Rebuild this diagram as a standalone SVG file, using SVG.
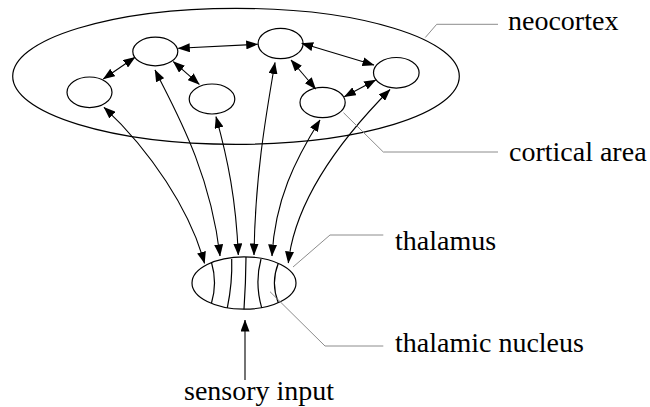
<svg xmlns="http://www.w3.org/2000/svg" width="650" height="407" viewBox="0 0 650 407">
  <rect width="650" height="407" fill="#fff"/>
  <g id="labels" font-family="Liberation Serif, serif" font-size="28" fill="#000">
    <text x="508" y="30" font-family="Liberation Serif" font-size="28">neocortex</text>
    <text x="509" y="161" font-family="Liberation Serif" font-size="28">cortical area</text>
    <text x="395" y="250" font-family="Liberation Serif" font-size="28">thalamus</text>
    <text x="395" y="352" font-family="Liberation Serif" font-size="28">thalamic nucleus</text>
    <text x="184" y="400" font-family="Liberation Serif" font-size="28">sensory input</text>
  </g>
  <defs>
    <marker id="ah" viewBox="0 0 12 9" refX="11.5" refY="4.5" markerWidth="12" markerHeight="9" markerUnits="userSpaceOnUse" orient="auto-start-reverse">
      <path d="M0,0 L12,4.5 L0,9 z" fill="#000" stroke="none"/>
    </marker>
  </defs>

  <g fill="none" stroke="#000" stroke-width="1.2">
    <g id="neocortex">
      <ellipse cx="236" cy="76.3" rx="223.3" ry="68"/>
    </g>
    <g id="area1"><ellipse cx="89.5" cy="92.3" rx="22.5" ry="15.3"/></g>
    <g id="area2"><ellipse cx="155.3" cy="51.5" rx="22.5" ry="14.3"/></g>
    <g id="area3"><ellipse cx="212" cy="99" rx="22.8" ry="15"/></g>
    <g id="area4"><ellipse cx="280.6" cy="43.5" rx="22.5" ry="15.2"/></g>
    <g id="area5"><ellipse cx="396.3" cy="72.8" rx="22.8" ry="15.3"/></g>
    <g id="area6"><ellipse cx="322.6" cy="102.5" rx="22.6" ry="15.2"/></g>

    <g id="thalamus">
      <ellipse cx="244" cy="283" rx="52" ry="26.2"/>
      <path d="M211.5,262.5 Q217.5,282.5 211.5,303"/>
      <path d="M231.7,259 Q232.5,283 227.3,307.8"/>
      <path d="M246,257 Q245.8,283 244,309.2"/>
      <path d="M261,259 Q254.5,283 261.7,307.8"/>
      <path d="M278.3,263.3 Q270.5,283 278.3,302.7"/>
    </g>
  </g>

  <g id="connectors" fill="none" stroke="#000" stroke-width="1.1">
    <path marker-start="url(#ah)" marker-end="url(#ah)" d="M103.3,79 L135,57.3"/>
    <path marker-start="url(#ah)" marker-end="url(#ah)" d="M178.3,48.3 L257.7,44.3"/>
    <path marker-start="url(#ah)" marker-end="url(#ah)" d="M173.3,61.7 L199.3,84.3"/>
    <path marker-start="url(#ah)" marker-end="url(#ah)" d="M301.7,43.3 L374,65"/>
    <path marker-start="url(#ah)" marker-end="url(#ah)" d="M291,60 L315.7,89"/>
    <path marker-start="url(#ah)" marker-end="url(#ah)" d="M344.3,96.7 L375.7,80"/>

    <path marker-start="url(#ah)" marker-end="url(#ah)" d="M104,107.3 C150,150 190,210 204.5,263.3"/>
    <path marker-start="url(#ah)" marker-end="url(#ah)" d="M155,70 C175,110 210,170 220,256"/>
    <path marker-start="url(#ah)" marker-end="url(#ah)" d="M216,116.7 C228,160 236,200 238.3,255"/>
    <path marker-start="url(#ah)" marker-end="url(#ah)" d="M275,62.5 C265,120 255,180 254,255"/>
    <path marker-start="url(#ah)" marker-end="url(#ah)" d="M320,120 C295,160 275,200 272,256"/>
    <path marker-start="url(#ah)" marker-end="url(#ah)" d="M390,89.5 C340,140 295,200 288.3,263"/>

    <path marker-end="url(#ah)" d="M245,380 L245,320"/>

    <g stroke="#8c8c8c" stroke-width="1">
      <polyline points="425.3,37.5 436.7,24.3 498,24.3"/>
      <polyline points="343.5,112.7 383.3,152 498,152"/>
      <polyline points="293,267 330,235 383.3,235"/>
      <polyline points="270,291.7 325,346 383.3,346"/>
    </g>
  </g>
</svg>
